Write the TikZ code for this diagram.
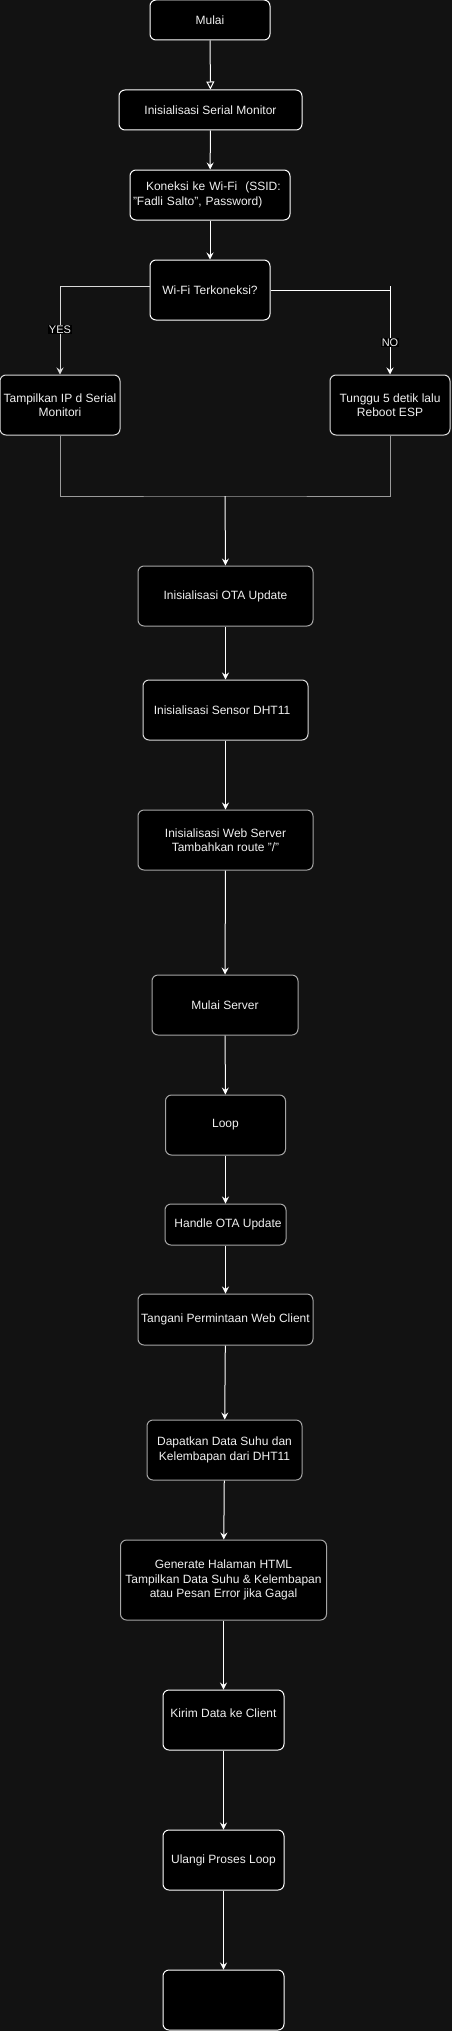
\documentclass[tikz,border=0pt]{standalone}
\usepackage{fontspec}
\setmainfont{Liberation Sans}
\usetikzlibrary{arrows.meta}
\definecolor{bg}{HTML}{121212}
\definecolor{txt}{HTML}{F0F0F0}
\definecolor{edgegray}{HTML}{A6A6A6}
\definecolor{linegray}{HTML}{9A9A9A}
\begin{document}
\begin{tikzpicture}[x=1pt,y=-1pt,
  box/.style={draw=white, fill=black, rounded corners=6pt, line width=1pt,
    inner sep=0pt, align=center, text=txt,
    font=\fontsize{12}{14.5}\selectfont},
  graybox/.style={box, draw=edgegray},
  arr/.style={draw=white, line width=1pt, -{Stealth[length=7pt,width=7pt,inset=2.5pt]}},
  openarr/.style={draw=white, line width=1pt, -{Triangle[open,length=8pt,width=8pt,fill=bg]}},
  plainline/.style={draw=white, line width=1pt},
  grayline/.style={draw=linegray, line width=1pt},
  lbl/.style={fill=black, text=txt, inner sep=0.5pt, font=\fontsize{11}{13}\selectfont}
]
\fill[bg] (0,0) rectangle (452,2031);
\useasboundingbox (0,0) rectangle (452,2031);

\node[box, minimum width=120pt, minimum height=40pt] (mulai) at (210,20) {Mulai};
\node[box, minimum width=183pt, minimum height=40pt] (serial) at (210.5,110) {Inisialisasi Serial Monitor};
\node[box, minimum width=160pt, minimum height=50pt, text width=154pt, align=left, inner xsep=3pt] (kon) at (210,195)
  {\hspace*{13pt}Koneksi ke Wi-Fi\ \ (SSID:\\"Fadli Salto", Password)};
\node[box, minimum width=120pt, minimum height=60pt] (wifi) at (210,290) {Wi-Fi Terkoneksi?};
\node[box, draw=white!85!black, minimum width=120pt, minimum height=60pt] (tamp) at (60,405) {Tampilkan IP d Serial\\Monitori};
\node[box, draw=white!85!black, minimum width=120pt, minimum height=60pt] (tung) at (390,405) {Tunggu 5 detik lalu\\Reboot ESP};
\node[graybox, minimum width=175pt, minimum height=60pt] (ota) at (225.5,596) {Inisialisasi OTA Update};
\node[box, draw=white!85!black, minimum width=165pt, minimum height=60pt] (sensor) at (225.5,710) {Inisialisasi Sensor DHT11\hspace*{7pt}};
\node[graybox, minimum width=175pt, minimum height=60pt] (web) at (225.5,840) {Inisialisasi Web Server\\Tambahkan route "/"};
\node[graybox, minimum width=146pt, minimum height=60pt] (mserver) at (225,1005) {Mulai Server};
\node[graybox, minimum width=120pt, minimum height=60pt] (loop) at (225.5,1125) {Loop};
\node[graybox, minimum width=121pt, minimum height=41pt] (handle) at (225.5,1224.5) {\hspace*{5pt}Handle OTA Update};
\node[graybox, minimum width=175pt, minimum height=51pt] (tangani) at (225.5,1319.5) {Tangani Permintaan Web Client};
\node[graybox, minimum width=155pt, minimum height=60pt] (dapat) at (224.5,1450) {Dapatkan Data Suhu dan\\Kelembapan dari DHT11};
\node[graybox, minimum width=206pt, minimum height=80pt] (gen) at (223.5,1580) {Generate Halaman HTML\\Tampilkan Data Suhu \& Kelembapan\\atau Pesan Error jika Gagal};
\node[box, minimum width=121pt, minimum height=60pt] (kirim) at (223.5,1720) {Kirim Data ke Client\\\mbox{}};
\node[box, minimum width=121pt, minimum height=60pt] (ulangi) at (223.5,1860) {Ulangi Proses Loop};
\node[box, minimum width=121pt, minimum height=60pt] (empty) at (223.5,2000) {};

\draw[openarr] (mulai) -- (serial);
\draw[arr] (serial) -- (kon);
\draw[arr] (kon) -- (wifi);

\draw[arr, draw=white!85!black] ([yshift=4pt]wifi.west) -| node[lbl, pos=0.745] (yes) {YES} (tamp.north);
\draw[arr] (wifi.east) -| node[lbl, pos=0.81] (no) {NO} (tung.north);
\coordinate (tick) at ([yshift=4pt]tung.north |- wifi.east);
\draw[plainline] (tick) -- (tung.north |- wifi.east);

\coordinate (merge) at (225,496);
\draw[grayline] (tamp.south) |- (merge) -| (tung.south);
\draw[arr] (merge) -- (ota.north);

\draw[arr] (ota) -- (sensor);
\draw[arr] (sensor) -- (web);
\draw[arr] (web) -- (mserver);
\draw[arr] (mserver) -- (loop);
\draw[arr] (loop) -- (handle);
\draw[arr] (handle) -- (tangani);
\draw[arr] (tangani) -- (dapat);
\draw[arr] (dapat) -- (gen);
\draw[arr] (gen) -- (kirim);
\draw[arr] (kirim) -- (ulangi);
\draw[arr] (ulangi) -- (empty);
\end{tikzpicture}
\end{document}
